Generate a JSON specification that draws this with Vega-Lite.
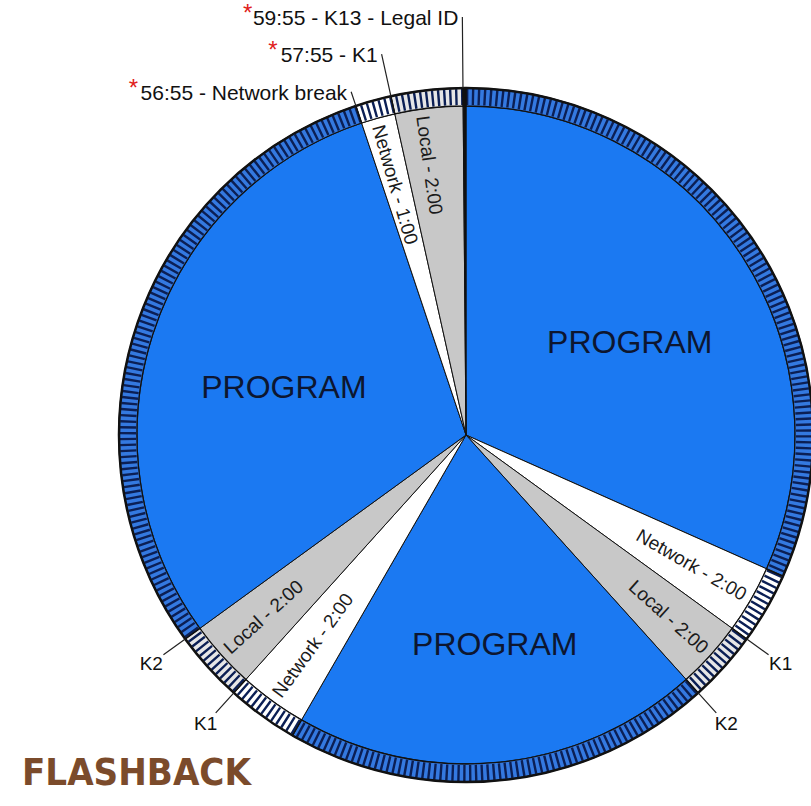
{
  "$schema": "https://vega.github.io/schema/vega-lite/v6.json",
  "width": 690,
  "height": 692,
  "autosize": {"type": "none"},
  "padding": {"left": 121, "top": 89, "right": 0, "bottom": 25},
  "background": "white",
  "config": {"view": {"stroke": null}, "text": {"font": "Liberation Sans"}},
  "title": {"text": "FLASHBACK", "orient": "bottom", "anchor": "start", "frame": "group", "font": "DejaVu Sans Condensed", "fontWeight": "bold", "fontSize": 38, "color": "#7b4b2b", "dx": -99, "offset": -50},
  "datasets": {
    "segments": [
      {"start": 0, "end": 19, "kind": "Program"},
      {"start": 19, "end": 21, "kind": "Network"},
      {"start": 21, "end": 23, "kind": "Local"},
      {"start": 23, "end": 35, "kind": "Program"},
      {"start": 35, "end": 37, "kind": "Network"},
      {"start": 37, "end": 39, "kind": "Local"},
      {"start": 39, "end": 56.9167, "kind": "Program"},
      {"start": 56.9167, "end": 57.9167, "kind": "Network"},
      {"start": 57.9167, "end": 59.9167, "kind": "Local"},
      {"start": 59.9167, "end": 60, "kind": "Legal ID"}
    ],
    "dial": [{"start": 0, "end": 60}],
    "cues": [
      {"m": 21, "label": "K1"},
      {"m": 23, "label": "K2"},
      {"m": 37, "label": "K1"},
      {"m": 39, "label": "K2"}
    ],
    "notes": [
      {"m": 56.9167, "label": "56:55 - Network break", "tier": 1},
      {"m": 57.9167, "label": "57:55 - K1", "tier": 2},
      {"m": 59.9167, "label": "59:55 - K13 - Legal ID", "tier": 3}
    ],
    "wedgeLabels": [
      {"m": 20, "label": "Network - 2:00", "side": "R"},
      {"m": 22, "label": "Local - 2:00", "side": "R"},
      {"m": 36, "label": "Network - 2:00", "side": "L"},
      {"m": 38, "label": "Local - 2:00", "side": "L"},
      {"m": 57.35, "label": "Network - 1:00", "side": "L"},
      {"m": 58.7, "label": "Local - 2:00", "side": "L"}
    ],
    "programLabels": [
      {"m": 10.1, "label": "PROGRAM", "pos": "side"},
      {"m": 28.7, "label": "PROGRAM", "pos": "bottom"},
      {"m": 47.4, "label": "PROGRAM", "pos": "side"}
    ]
  },
  "resolve": {"scale": {"angle": "independent"}},
  "layer": [
    {
      "data": {"name": "segments"},
      "mark": {"type": "arc", "outerRadius": 329, "stroke": "#111111", "strokeWidth": 1},
      "encoding": {
        "theta": {"field": "start", "type": "quantitative", "scale": {"domain": [0, 60]}},
        "theta2": {"field": "end"},
        "color": {"field": "kind", "type": "nominal", "legend": null, "scale": {"domain": ["Program", "Network", "Local", "Legal ID"], "range": ["#1b79f2", "#ffffff", "#c8c8c8", "#111111"]}}
      }
    },
    {
      "data": {"name": "segments"},
      "mark": {"type": "arc", "innerRadius": 329, "outerRadius": 347},
      "encoding": {
        "theta": {"field": "start", "type": "quantitative", "scale": {"domain": [0, 60]}},
        "theta2": {"field": "end"},
        "fill": {"field": "kind", "type": "nominal", "legend": null, "scale": {"domain": ["Program", "Network", "Local", "Legal ID"], "range": ["#3479e0", "#ffffff", "#e6e6e6", "#111111"]}}
      }
    },
    {
      "data": {"name": "dial"},
      "mark": {"type": "arc", "outerRadius": 338, "fill": "transparent", "stroke": "#0b1f55", "strokeWidth": 16, "strokeDash": [2.4, 3.4992]},
      "encoding": {
        "theta": {"field": "start", "type": "quantitative", "scale": {"domain": [0, 60]}},
        "theta2": {"field": "end"}
      }
    },
    {
      "data": {"name": "segments"},
      "mark": {"type": "arc", "innerRadius": 329, "outerRadius": 347, "fill": "transparent", "stroke": "#111111", "strokeWidth": 1.3},
      "encoding": {
        "theta": {"field": "start", "type": "quantitative", "scale": {"domain": [0, 60]}},
        "theta2": {"field": "end"}
      }
    },
    {
      "data": {"name": "dial"},
      "mark": {"type": "arc", "outerRadius": 347, "fill": "transparent", "stroke": "#111111", "strokeWidth": 2.5},
      "encoding": {
        "theta": {"field": "start", "type": "quantitative", "scale": {"domain": [0, 60]}},
        "theta2": {"field": "end"}
      }
    },
    {
      "data": {"name": "cues"},
      "mark": {"type": "arc", "innerRadius": 347, "outerRadius": 374, "stroke": "#222222", "strokeWidth": 1.2},
      "encoding": {
        "theta": {"field": "m", "type": "quantitative", "scale": {"domain": [0, 60]}},
        "theta2": {"field": "m"}
      }
    },
    {
      "data": {"name": "cues"},
      "mark": {"type": "text", "radius": 389, "fontSize": 19, "align": "center", "baseline": "middle", "color": "#111111"},
      "encoding": {
        "theta": {"field": "m", "type": "quantitative", "scale": {"domain": [0, 60]}},
        "text": {"field": "label"}
      }
    },
    {
      "data": {"name": "notes"},
      "mark": {"type": "arc", "innerRadius": 347, "stroke": "#222222", "strokeWidth": 1.2},
      "encoding": {
        "theta": {"field": "m", "type": "quantitative", "scale": {"domain": [0, 60]}},
        "theta2": {"field": "m"},
        "radius": {"field": "tier", "type": "quantitative", "scale": {"type": "linear", "domain": [1, 3], "range": [362, 418], "zero": false}}
      }
    },
    {
      "data": {"name": "notes"},
      "mark": {"type": "text", "fontSize": 21, "align": "right", "baseline": "middle", "dx": -4, "dy": 2, "color": "#111111"},
      "encoding": {
        "theta": {"field": "m", "type": "quantitative", "scale": {"domain": [0, 60]}},
        "radius": {"field": "tier", "type": "quantitative", "scale": {"type": "linear", "domain": [1, 3], "range": [362, 418], "zero": false}},
        "text": {"field": "label"}
      }
    },
    {
      "data": {"name": "notes"},
      "transform": [{"filter": "datum.tier == 1"}],
      "mark": {"type": "text", "text": "*", "fontSize": 24, "align": "right", "baseline": "middle", "dx": -213, "dy": -3, "color": "#e0201b"},
      "encoding": {
        "theta": {"field": "m", "type": "quantitative", "scale": {"domain": [0, 60]}},
        "radius": {"field": "tier", "type": "quantitative", "scale": {"type": "linear", "domain": [1, 3], "range": [362, 418], "zero": false}}
      }
    },
    {
      "data": {"name": "notes"},
      "transform": [{"filter": "datum.tier == 2"}],
      "mark": {"type": "text", "text": "*", "fontSize": 24, "align": "right", "baseline": "middle", "dx": -104, "dy": -3, "color": "#e0201b"},
      "encoding": {
        "theta": {"field": "m", "type": "quantitative", "scale": {"domain": [0, 60]}},
        "radius": {"field": "tier", "type": "quantitative", "scale": {"type": "linear", "domain": [1, 3], "range": [362, 418], "zero": false}}
      }
    },
    {
      "data": {"name": "notes"},
      "transform": [{"filter": "datum.tier == 3"}],
      "mark": {"type": "text", "text": "*", "fontSize": 24, "align": "right", "baseline": "middle", "dx": -210, "dy": -3, "color": "#e0201b"},
      "encoding": {
        "theta": {"field": "m", "type": "quantitative", "scale": {"domain": [0, 60]}},
        "radius": {"field": "tier", "type": "quantitative", "scale": {"type": "linear", "domain": [1, 3], "range": [362, 418], "zero": false}}
      }
    },
    {
      "data": {"name": "wedgeLabels"},
      "transform": [{"filter": "datum.side == 'R'"}],
      "mark": {"type": "text", "radius": 322, "fontSize": 19, "align": "right", "baseline": "middle", "color": "#1a1a1a"},
      "encoding": {
        "theta": {"field": "m", "type": "quantitative", "scale": {"domain": [0, 60]}},
        "angle": {"field": "m", "type": "quantitative", "scale": {"domain": [0, 60], "range": [-90, 270], "zero": false, "nice": false}},
        "text": {"field": "label"}
      }
    },
    {
      "data": {"name": "wedgeLabels"},
      "transform": [{"filter": "datum.side == 'L'"}],
      "mark": {"type": "text", "radius": 322, "fontSize": 19, "align": "left", "baseline": "middle", "color": "#1a1a1a"},
      "encoding": {
        "theta": {"field": "m", "type": "quantitative", "scale": {"domain": [0, 60]}},
        "angle": {"field": "m", "type": "quantitative", "scale": {"domain": [0, 60], "range": [-270, 90], "zero": false, "nice": false}},
        "text": {"field": "label"}
      }
    },
    {
      "data": {"name": "programLabels"},
      "transform": [{"filter": "datum.pos == 'side'"}],
      "mark": {"type": "text", "radius": 188, "fontSize": 32, "align": "center", "baseline": "middle", "color": "#0d1630"},
      "encoding": {
        "theta": {"field": "m", "type": "quantitative", "scale": {"domain": [0, 60]}},
        "text": {"field": "label"}
      }
    },
    {
      "data": {"name": "programLabels"},
      "transform": [{"filter": "datum.pos == 'bottom'"}],
      "mark": {"type": "text", "radius": 212, "fontSize": 32, "align": "center", "baseline": "middle", "color": "#0d1630"},
      "encoding": {
        "theta": {"field": "m", "type": "quantitative", "scale": {"domain": [0, 60]}},
        "text": {"field": "label"}
      }
    }
  ]
}
